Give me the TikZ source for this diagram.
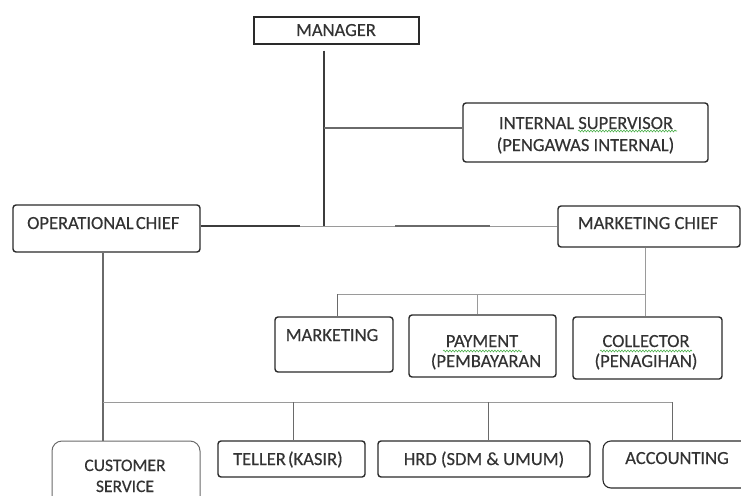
\documentclass[tikz,border=0pt]{standalone}
\usepackage{fontspec}
\setmainfont{Carlito}
\newfontfamily\lblfont{Carlito}[FakeBold=0.35]
\usetikzlibrary{fit,decorations.pathmorphing}
\definecolor{txtc}{HTML}{333333}
\definecolor{boxc}{HTML}{2A2A2A}
\definecolor{lnc}{HTML}{6A6A6A}
\definecolor{lnd}{HTML}{3C3C3C}
\definecolor{lnl}{HTML}{9A9A9A}
\definecolor{spell}{HTML}{4CB04C}
\begin{document}
\begin{tikzpicture}[x=1pt,y=-1pt,
  box/.style={draw=boxc, line width=1.4pt, rounded corners=3pt, inner sep=0pt},
  sqbox/.style={draw=boxc, line width=1.3pt, inner sep=0pt},
  softbox/.style={draw=lnc, line width=1pt, rounded corners=10pt, inner sep=0pt},
  lbl/.style={anchor=base, text=txtc, inner sep=0pt, font=\lblfont\fontsize{18.5}{22}\selectfont},
  conn/.style={draw=lnc, line width=1pt},
  darkconn/.style={draw=lnd, line width=1.5pt},
  lightconn/.style={draw=lnl, line width=0.9pt},
  wavy/.style={draw=spell, line width=0.6pt, decorate, decoration={snake, amplitude=0.9pt, segment length=3pt}}]
\useasboundingbox (0,0) rectangle (741,495);
\begin{scope}
\clip (0,0) rectangle (741,495);
% boxes
\node[sqbox, fit={(254,17) (419,44)}] (manager) {};
\node[box, fit={(463,103) (708,162)}] (is) {};
\node[box, fit={(13,205) (200,252)}] (op) {};
\node[box, fit={(558,206) (740,247)}] (mk) {};
\node[box, fit={(275,317) (393,372)}] (marketing) {};
\node[box, fit={(409,315) (556,377)}] (pay) {};
\node[box, fit={(573,317) (722,379)}] (coll) {};
\node[softbox, fit={(52,441) (200,512)}] (cs) {};
\node[box, fit={(218,441) (365,477)}] (teller) {};
\node[box, fit={(378,441) (590,477)}] (hrd) {};
\node[box, line width=1.1pt, rounded corners=8pt, fit={(603,441) (752,488)}] (acc) {};

% labels
\node[lbl] (tmanager) at (336,36) {MANAGER};
\node[lbl] (tis1) at (586,129) {INTERNAL SUPERVISOR};
\node[lbl] (tis2) at (585.5,151) {(PENGAWAS INTERNAL)};
\node[lbl, anchor=base west] (top) at (27,229) {OPERATIONAL\hspace{-2pt} CHIEF};
\node[lbl] (tmk) at (648,229) {MARKETING CHIEF};
\node[lbl] (tmarketing) at (332,341) {MARKETING};
\node[lbl] (tpay1) at (482,347) {PAYMENT};
\node[lbl] (tpay2) at (486,367) {(PEMBAYARAN};
\node[lbl] (tcoll1) at (646,347) {COLLECTOR};
\node[lbl] (tcoll2) at (646,367) {(PENAGIHAN)};
\node[lbl, font=\lblfont\fontsize{17.5}{22}\selectfont] (tcs1) at (125,471) {CUSTOMER};
\node[lbl, font=\lblfont\fontsize{17.5}{22}\selectfont] (tcs2) at (125,492) {SERVICE};
\node[lbl] (tteller) at (288,465) {TELLER\hspace{-2pt} (KASIR)};
\node[lbl] (thrd) at (484,465) {HRD (SDM \& UMUM)};
\node[lbl] (tacc) at (677,464) {ACCOUNTING};

% spell-check underlines
\draw[wavy] (578,131) -- (677,131);
\draw[wavy] (443,351) -- (522,351);
\draw[wavy] (600,351) -- (692,351);

% connectors
\coordinate (hub) at (324,226);
\coordinate (isj) at (324,128);
\draw[darkconn] ([yshift=-6pt]manager.south -| hub) -- (hub);
\draw[conn, line width=1.2pt] (isj) -- (isj -| is.west);
\draw[lightconn] (hub -| op.east) -- (hub -| mk.west);
\coordinate (d1) at (300,226);
\coordinate (d2) at (395,226);
\coordinate (d3) at (490,226);
\draw[darkconn, line width=1.2pt] (hub -| op.east) -- (d1);
\draw[conn, line width=1.6pt] (d2) -- (d3);

\coordinate (mkbus) at (645,294);
\coordinate (mkl) at (337,294);
\coordinate (payj) at (477,294);
\draw[lightconn] (mk.south -| mkbus) -- (mkbus);
\draw[lightconn] (mkl) -- (mkbus);
\draw[conn] (mkl) -- (mkl |- marketing.north);
\draw[lightconn] (payj) -- (payj |- pay.north);
\draw[lightconn] (mkbus) -- (mkbus |- coll.north);

\coordinate (opbus) at (103,402);
\coordinate (opr) at (672,402);
\coordinate (tj) at (293,402);
\coordinate (hj) at (488,402);
\draw[conn, line width=1.2pt] (op.south -| opbus) -- (opbus) -- (opbus |- cs.north);
\draw[lightconn] (opbus) -- (opr);
\draw[conn] (opr) -- (opr |- acc.north);
\draw[conn] (tj) -- (tj |- teller.north);
\draw[conn] (hj) -- (hj |- hrd.north);
\end{scope}
\end{tikzpicture}
\end{document}
